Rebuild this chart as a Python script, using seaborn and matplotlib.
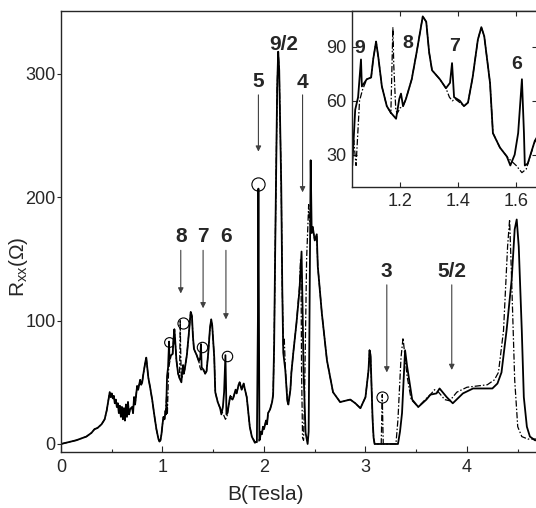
import numpy as np
import pandas as pd
import matplotlib
matplotlib.use('Agg')
import matplotlib.pyplot as plt
import seaborn as sns

# solid trace, values (B in Tesla, Rxx in Ohm)
solid_b = [0.00, 0.05, 0.10, 0.15, 0.20, 0.25, 0.30, 0.33, 0.36, 0.40, 0.43, 0.45, 0.47, 0.48,
           0.49, 0.50, 0.51, 0.52, 0.53, 0.54, 0.55, 0.56, 0.57, 0.58, 0.59, 0.60, 0.61, 0.62,
           0.63, 0.64, 0.65, 0.66, 0.67, 0.68, 0.70, 0.71, 0.72, 0.73, 0.75, 0.76, 0.78, 0.79,
           0.80, 0.81, 0.83, 0.84, 0.85, 0.86, 0.88, 0.90, 0.92, 0.94, 0.96, 0.97, 0.98, 0.99,
           1.00, 1.01, 1.02, 1.03, 1.035, 1.04, 1.045, 1.055, 1.065, 1.068, 1.085, 1.10, 1.107,
           1.117, 1.125, 1.137, 1.154, 1.17, 1.186, 1.197, 1.203, 1.21, 1.22, 1.24, 1.258, 1.278,
           1.29, 1.30, 1.31, 1.337, 1.358, 1.372, 1.379, 1.386, 1.406, 1.42, 1.434, 1.45, 1.468,
           1.48, 1.49, 1.51, 1.52, 1.544, 1.568, 1.58, 1.595, 1.607, 1.62, 1.627, 1.63, 1.64,
           1.665, 1.69, 1.70, 1.72, 1.73, 1.75, 1.76, 1.78, 1.80, 1.81, 1.83, 1.86, 1.88, 1.91,
           1.93, 1.94, 1.945, 1.95, 1.955, 1.96, 1.97, 1.98, 1.99, 2.00, 2.02, 2.03, 2.04, 2.06,
           2.08, 2.09, 2.10, 2.11, 2.13, 2.14, 2.15, 2.17, 2.18, 2.19, 2.21, 2.23, 2.24, 2.26,
           2.27, 2.29, 2.32, 2.35, 2.37, 2.38, 2.39, 2.41, 2.43, 2.44, 2.45, 2.46, 2.47, 2.48,
           2.50, 2.52, 2.53, 2.57, 2.62, 2.68, 2.75, 2.80, 2.85, 2.90, 2.95, 3.00, 3.03, 3.04,
           3.05, 3.07, 3.08, 3.09, 3.32, 3.34, 3.36, 3.39, 3.41, 3.46, 3.52, 3.60, 3.64, 3.70,
           3.73, 3.80, 3.86, 3.96, 4.06, 4.16, 4.25, 4.30, 4.34, 4.39, 4.44, 4.47, 4.49, 4.51,
           4.54, 4.56, 4.59, 4.62, 4.67, 4.72]
solid_r = [0, 1, 2, 3, 4.5, 6, 9, 12, 13, 16, 20, 27, 37, 42,
           38, 41, 37, 39, 33, 36, 30, 33, 25, 31, 22, 30, 20, 29,
           19, 32, 22, 34, 24, 28, 30, 25, 38, 32, 47, 44, 52, 48,
           50, 56, 66, 70, 62, 54, 45, 35, 23, 12, 4, 2, 3, 8,
           16, 22, 20, 27, 24, 40, 55, 62, 83, 68, 72, 73, 83,
           93, 84, 68, 57, 53, 50, 61, 64, 57, 61, 72, 88, 107,
           104, 87, 77, 72, 67, 70, 81, 62, 60, 57, 59, 73, 94,
           101, 96, 70, 42, 34, 29, 24, 30, 42, 72, 42, 24, 25,
           38, 36, 38, 44, 41, 48, 50, 44, 49, 45, 38, 14, 6, 1,
           2, 100, 207, 100, 3, 4, 10, 8, 14, 12, 19, 16, 25, 28,
           34, 40, 80, 155, 290, 318, 303, 209, 127, 74, 60, 35, 32, 44,
           58, 75, 98, 125, 156, 111, 58, 9, 0, 10, 120, 230, 171, 176,
           165, 170, 144, 106, 68, 42, 34, 35, 36, 33, 29, 38, 60, 76,
           72, 20, 5, 0, 0, 10, 25, 76, 63, 36, 30, 36, 40, 41,
           45, 38, 33, 41, 45, 45, 45, 49, 58, 92, 133, 174, 182, 160,
           92, 38, 14, 6, 3, 3]

# dash-dot trace (same as solid below 1.03 T, differs around the circled features)
dash_b = solid_b[:60] + [1.04, 1.048, 1.06, 1.07, 1.085, 1.10, 1.107, 1.117, 1.125, 1.137,
                         1.154, 1.168, 1.172, 1.175, 1.178, 1.185, 1.19, 1.20, 1.21, 1.22,
                         1.24, 1.258, 1.278, 1.29, 1.30, 1.31, 1.337, 1.358, 1.37, 1.38,
                         1.39, 1.406, 1.42, 1.434, 1.45, 1.468, 1.48, 1.49, 1.51, 1.52,
                         1.544, 1.568, 1.58, 1.60, 1.62, 1.635, 1.65, 1.67, 1.69, 1.70,
                         1.72, 1.73, 1.75, 1.76, 1.78, 1.80, 1.81, 1.83, 1.86, 1.88,
                         1.91, 1.94, 1.96, 1.97, 1.98, 1.99, 2.00, 2.02, 2.03, 2.04,
                         2.06, 2.08, 2.09, 2.10, 2.11, 2.13, 2.14, 2.15, 2.17, 2.18,
                         2.19, 2.20, 2.21, 2.23, 2.24, 2.26, 2.27, 2.29, 2.32, 2.35,
                         2.36, 2.365, 2.37, 2.38, 2.39, 2.40, 2.42, 2.44, 2.45, 2.47,
                         2.48, 2.50, 2.52, 2.53, 2.57, 2.62, 2.68, 2.75, 2.80, 2.85,
                         2.90, 2.95, 3.00, 3.03, 3.04, 3.05, 3.07, 3.08, 3.09, 3.155,
                         3.165, 3.175, 3.30, 3.32, 3.35, 3.37, 3.39, 3.41, 3.45, 3.52,
                         3.60, 3.64, 3.68, 3.72, 3.78, 3.83, 3.90, 4.00, 4.10, 4.20,
                         4.27, 4.31, 4.36, 4.40, 4.42, 4.44, 4.47, 4.50, 4.54, 4.60,
                         4.72]
dash_r = solid_r[:60] + [38, 24, 60, 66, 72, 73, 83, 93, 84, 68,
                         57, 53, 80, 101, 80, 55, 53, 56, 57, 61,
                         72, 88, 107, 104, 87, 77, 72, 67, 62, 60,
                         61, 59, 57, 59, 73, 94, 101, 96, 70, 42,
                         34, 29, 27, 24, 20, 22, 30, 40, 37, 38,
                         44, 41, 48, 50, 44, 49, 45, 38, 14, 6,
                         2, 1, 4, 10, 8, 14, 12, 19, 16, 25,
                         28, 34, 40, 80, 155, 290, 318, 303, 209, 127,
                         80, 85, 62, 36, 33, 44, 58, 75, 98, 128,
                         150, 140, 60, 5, 3, 40, 150, 194, 180, 172,
                         176, 165, 170, 144, 106, 68, 42, 34, 35, 36,
                         33, 29, 38, 60, 76, 72, 20, 5, 0, 0,
                         40, 0, 0, 20, 70, 86, 70, 55, 36, 30,
                         37, 40, 44, 42, 36, 35, 42, 46, 47, 48,
                         52, 58, 92, 160, 182, 133, 52, 14, 6, 4,
                         4]

# filling-factor labels: text, B of arrow, label height, arrow top, arrow tip
main_labels = ['8', '7', '6', '5', '4', '3', '5/2']
main_label_b = [1.18, 1.40, 1.625, 1.945, 2.38, 3.21, 3.85]
main_label_r = [168, 168, 168, 294, 293, 140, 140]
arrow_top = [157, 157, 157, 283, 283, 129, 129]
arrow_tip = [122, 110, 101, 237, 204, 58, 60]

# circled spikes
circle_b = [1.067, 1.20, 1.386, 1.633, 1.945, 3.162]
circle_r = [83, 98, 79, 71, 211, 38]
circle_size = [7, 8, 7.5, 7.5, 9.5, 8]

inset_labels = ['9', '8', '7', '6']
inset_label_b = [1.062, 1.226, 1.386, 1.603]
inset_label_r = [89, 92, 90, 80]

solid = pd.DataFrame({'B': solid_b, 'R': solid_r})
dash = pd.DataFrame({'B': dash_b, 'R': dash_r})

sns.set_style('ticks')
plt.rcParams['font.family'] = ['Liberation Sans', 'DejaVu Sans']
plt.rcParams['mathtext.fontset'] = 'custom'
plt.rcParams['mathtext.rm'] = 'Liberation Sans'
plt.rcParams['mathtext.it'] = 'Liberation Sans'

fig = plt.figure(figsize=(5.36, 5.08), dpi=100)
ax = fig.add_axes([61 / 536, 56 / 508, 475 / 536, 441 / 508])

dash_style = (0, (5, 1.6, 1.2, 1.6))
sns.lineplot(data=dash, x='B', y='R', ax=ax, sort=False, estimator=None,
             color='black', lw=0.9, linestyle=dash_style)
sns.lineplot(data=solid, x='B', y='R', ax=ax, sort=False, estimator=None,
             color='black', lw=1.3)

for b, r, s in zip(circle_b, circle_r, circle_size):
    ax.plot(b, r, 'o', mfc='none', mec='black', mew=0.8, ms=s)

for t, b, r, a0, a1 in zip(main_labels, main_label_b, main_label_r, arrow_top, arrow_tip):
    ax.text(b, r, t, ha='center', va='center', fontsize=15, fontweight='bold')
    ax.annotate('', xy=(b, a1), xytext=(b, a0),
                arrowprops=dict(arrowstyle='-|>', color='0.25', lw=0.8,
                                mutation_scale=8, shrinkA=0, shrinkB=0))
ax.text(2.19, 324, '9/2', ha='center', va='center', fontsize=15, fontweight='bold')

ax.set_xlim(0, 4.68)
ax.set_ylim(-6.5, 351)
ax.set_xticks([0, 1, 2, 3, 4])
ax.set_xticks(np.arange(0.5, 4.6, 1.0), minor=True)
ax.set_yticks([0, 100, 200, 300])
ax.tick_params(axis='x', direction='in', length=4, width=0.8, pad=5, labelsize=13)
ax.tick_params(axis='x', which='minor', direction='in', length=2.5, width=0.8)
ax.tick_params(axis='y', direction='out', length=3, width=0.8, pad=1, labelsize=13)
ax.spines['right'].set_visible(False)
for sp in ['left', 'top', 'bottom']:
    ax.spines[sp].set_linewidth(1.0)
ax.set_xlabel('B(Tesla)', fontsize=15)
ax.set_ylabel(r'R$_{\mathrm{xx}}$($\Omega$)', fontsize=15)
ax.xaxis.set_label_coords(0.43, -0.075)
ax.yaxis.set_label_coords(-0.065, 0.42)

# inset
axi = fig.add_axes([352 / 536, 321 / 508, 185 / 536, 176 / 508])
axi.set_facecolor('white')
sns.lineplot(data=dash, x='B', y='R', ax=axi, sort=False, estimator=None,
             color='black', lw=0.9, linestyle=dash_style)
sns.lineplot(data=solid, x='B', y='R', ax=axi, sort=False, estimator=None,
             color='black', lw=1.3)
for t, b, r in zip(inset_labels, inset_label_b, inset_label_r):
    axi.text(b, r, t, ha='center', va='center', fontsize=14, fontweight='bold')
axi.set_xlim(1.034, 1.672)
axi.set_ylim(12, 110)
axi.set_xticks([1.2, 1.4, 1.6])
axi.set_yticks([30, 60, 90])
axi.tick_params(direction='in', length=3.5, width=0.8, top=True, right=True,
                labelsize=13, pad=4)
axi.set_xlabel('')
axi.set_ylabel('')
for sp in axi.spines.values():
    sp.set_linewidth(1.0)

fig.savefig('out.png', dpi=100)
